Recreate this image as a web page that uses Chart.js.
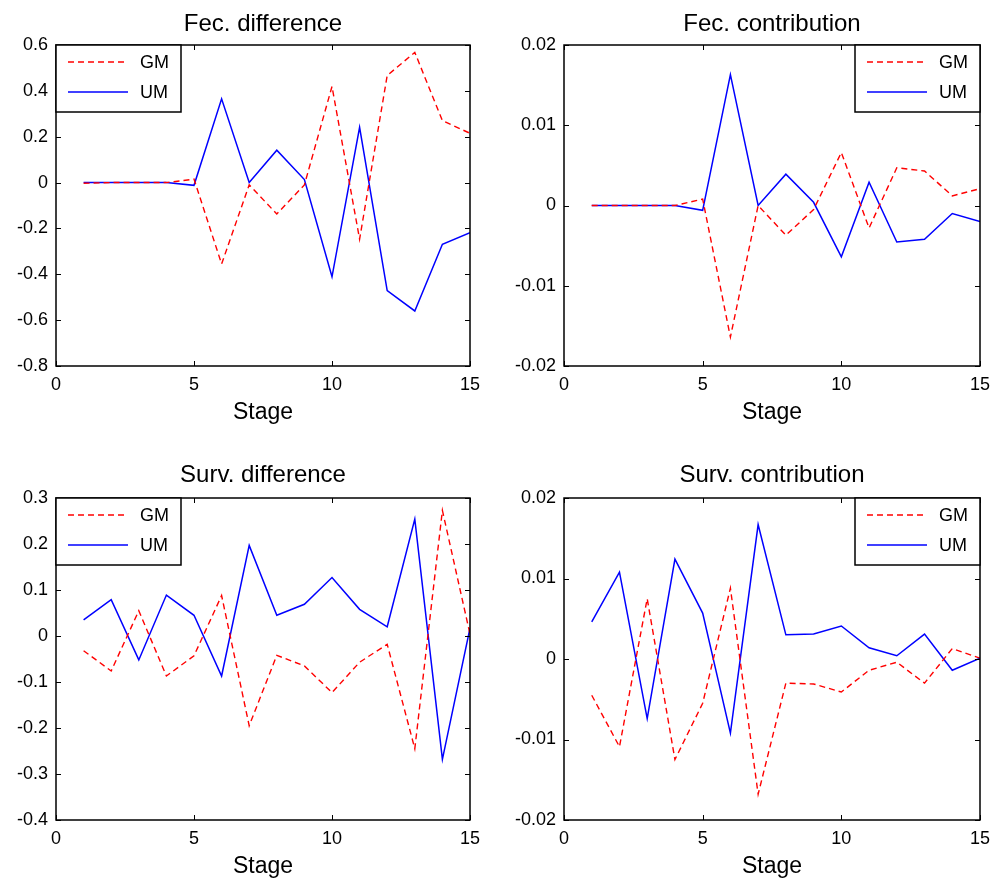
<!DOCTYPE html>
<html>
<head>
<meta charset="utf-8">
<script src="https://cdn.jsdelivr.net/npm/chart.js@4.4.1/dist/chart.umd.min.js"></script>
<style>
  html, body { margin: 0; padding: 0; background: #fff; }
  body { width: 1003px; height: 878px; position: relative; overflow: hidden; }
  .panel { position: absolute; }
</style>
</head>
<body>
<div class="panel" style="left:0px;top:0px;width:500px;height:430px;"><canvas id="c1"></canvas></div>
<div class="panel" style="left:500px;top:0px;width:503px;height:430px;"><canvas id="c2"></canvas></div>
<div class="panel" style="left:0px;top:440px;width:500px;height:438px;"><canvas id="c3"></canvas></div>
<div class="panel" style="left:500px;top:440px;width:503px;height:438px;"><canvas id="c4"></canvas></div>
<script>
// ---- Data ----
const stages = [1, 2, 3, 4, 5, 6, 7, 8, 9, 10, 11, 12, 13, 14, 15];
const seriesNames = ['GM', 'UM'];
const xAxisLabel = 'Stage';
const titles = ['Fec. difference', 'Fec. contribution', 'Surv. difference', 'Surv. contribution'];

const fecDiffGM = [-0.003, 0, 0, 0, 0.015, -0.355, -0.01, -0.137, -0.01, 0.419, -0.247, 0.467, 0.568, 0.27, 0.215];
const fecDiffUM = [0, 0, 0, 0, -0.012, 0.365, 0, 0.141, 0.013, -0.411, 0.241, -0.471, -0.56, -0.269, -0.219];

const fecContGM = [0, 0, 0, 0, 0.0008, -0.0164, 0, -0.0037, -0.0005, 0.0066, -0.0028, 0.0047, 0.0043, 0.0012, 0.0021];
const fecContUM = [0, 0, 0, 0, -0.0006, 0.0163, 0, 0.0039, 0.0004, -0.0064, 0.0029, -0.00455, -0.0042, -0.001, -0.002];

const survDiffGM = [-0.032, -0.076, 0.055, -0.087, -0.043, 0.088, -0.195, -0.042, -0.065, -0.123, -0.057, -0.018, -0.245, 0.273, 0.004];
const survDiffUM = [0.035, 0.079, -0.052, 0.089, 0.045, -0.087, 0.197, 0.045, 0.069, 0.127, 0.058, 0.02, 0.254, -0.268, 0.017];

const survContGM = [-0.0045, -0.0109, 0.0075, -0.0125, -0.0055, 0.0088, -0.0168, -0.003, -0.0031, -0.0041, -0.0014, -0.0004, -0.003, 0.0013, 0.0001];
const survContUM = [0.0046, 0.0108, -0.0074, 0.0124, 0.0057, -0.0092, 0.0167, 0.003, 0.0031, 0.0041, 0.0014, 0.0004, 0.0031, -0.0014, 0.0001];

const xTicksRange = [0, 15, 5];          // min, max, step
const yRangeFecDiff = [-0.8, 0.6, 0.2];
const yRangeFecCont = [-0.02, 0.02, 0.01];
const yRangeSurvDiff = [-0.4, 0.3, 0.1];
const yRangeSurvCont = [-0.02, 0.02, 0.01];

// ---- Styling helpers ----
const FONT = "'Liberation Sans', Arial, Helvetica, sans-serif";
const RED = '#ff0000';
const BLUE = '#0000ff';

const framePlugin = {
  id: 'frame',
  afterDatasetsDraw(chart, args, opts) {
    const ctx = chart.ctx;
    const a = chart.chartArea;
    const xs = chart.scales.x, ys = chart.scales.y;
    ctx.save();
    // inward ticks
    ctx.strokeStyle = '#000';
    ctx.lineWidth = 1;
    const L = 5;
    ctx.beginPath();
    xs.ticks.forEach(t => {
      const px = Math.round(xs.getPixelForValue(t.value)) + 0.5;
      ctx.moveTo(px, a.bottom); ctx.lineTo(px, a.bottom - L);
      ctx.moveTo(px, a.top); ctx.lineTo(px, a.top + L);
    });
    ys.ticks.forEach(t => {
      const py = Math.round(ys.getPixelForValue(t.value)) + 0.5;
      ctx.moveTo(a.left, py); ctx.lineTo(a.left + L, py);
      ctx.moveTo(a.right, py); ctx.lineTo(a.right - L, py);
    });
    ctx.stroke();
    // box
    ctx.lineWidth = 1.5;
    ctx.strokeRect(a.left, a.top, a.right - a.left, a.bottom - a.top);
    // title
    ctx.fillStyle = '#000';
    ctx.font = '24px ' + FONT;
    ctx.textAlign = 'center';
    ctx.textBaseline = 'middle';
    ctx.fillText(opts.title, (a.left + a.right) / 2, a.top - opts.titleGap);
    // legend box
    const bw = 125, bh = 67;
    const bx = opts.legendSide === 'left' ? a.left : a.right - bw;
    const by = a.top;
    ctx.fillStyle = '#fff';
    ctx.fillRect(bx, by, bw, bh);
    ctx.lineWidth = 1.5;
    ctx.strokeStyle = '#000';
    ctx.strokeRect(bx, by, bw, bh);
    chart.data.datasets.forEach((ds, i) => {
      const ry = by + 17 + i * 30;
      ctx.beginPath();
      ctx.strokeStyle = ds.borderColor;
      ctx.lineWidth = ds.borderWidth;
      ctx.setLineDash(ds.borderDash || []);
      ctx.moveTo(bx + 12, ry); ctx.lineTo(bx + 72, ry);
      ctx.stroke();
      ctx.setLineDash([]);
      ctx.fillStyle = '#000';
      ctx.font = '18px ' + FONT;
      ctx.textAlign = 'left';
      ctx.textBaseline = 'middle';
      ctx.fillText(ds.label, bx + 84, ry + 1);
    });
    ctx.restore();
  }
};

function fmt(v) { return String(parseFloat(Number(v).toFixed(4))); }

function makeChart(id, gm, um, yr, title, legendSide, yWidth, xHeight, padRight, padTop, titleGap, stagePad) {
  const toPts = arr => stages.map((s, i) => ({ x: s, y: arr[i] }));
  new Chart(document.getElementById(id), {
    type: 'line',
    data: {
      datasets: [
        { label: seriesNames[0], data: toPts(gm), borderColor: RED, borderWidth: 1.4, borderDash: [6, 4], pointRadius: 0, tension: 0, fill: false },
        { label: seriesNames[1], data: toPts(um), borderColor: BLUE, borderWidth: 1.5, pointRadius: 0, tension: 0, fill: false }
      ]
    },
    options: {
      responsive: true,
      maintainAspectRatio: false,
      animation: false,
      layout: { padding: { left: 0, right: padRight, top: padTop, bottom: 0 } },
      plugins: {
        legend: { display: false },
        tooltip: { enabled: false },
        frame: { title: title, legendSide: legendSide, titleGap: titleGap }
      },
      scales: {
        x: {
          type: 'linear',
          min: xTicksRange[0], max: xTicksRange[1],
          grid: { display: false, drawTicks: false },
          border: { display: false },
          ticks: { stepSize: xTicksRange[2], padding: 8, color: '#000', font: { family: FONT, size: 18 }, maxRotation: 0 },
          title: { display: true, text: xAxisLabel, color: '#000', font: { family: FONT, size: 23, lineHeight: 1 }, padding: { top: 0, bottom: stagePad } },
          afterFit(s) { s.height = xHeight; }
        },
        y: {
          min: yr[0], max: yr[1],
          grid: { display: false, drawTicks: false },
          border: { display: false },
          ticks: { stepSize: yr[2], padding: 8, color: '#000', font: { family: FONT, size: 18 }, callback: v => fmt(v) },
          afterFit(s) { s.width = yWidth; }
        }
      }
    },
    plugins: [framePlugin]
  });
}

makeChart('c1', fecDiffGM, fecDiffUM, yRangeFecDiff, titles[0], 'left', 56, 64, 30, 45, 21, 5.5);
makeChart('c2', fecContGM, fecContUM, yRangeFecCont, titles[1], 'right', 64, 64, 23, 45, 21, 5.5);
makeChart('c3', survDiffGM, survDiffUM, yRangeSurvDiff, titles[2], 'left', 56, 58, 30, 58, 23, 0);
makeChart('c4', survContGM, survContUM, yRangeSurvCont, titles[3], 'right', 64, 58, 23, 58, 23, 0);
</script>
</body>
</html>
